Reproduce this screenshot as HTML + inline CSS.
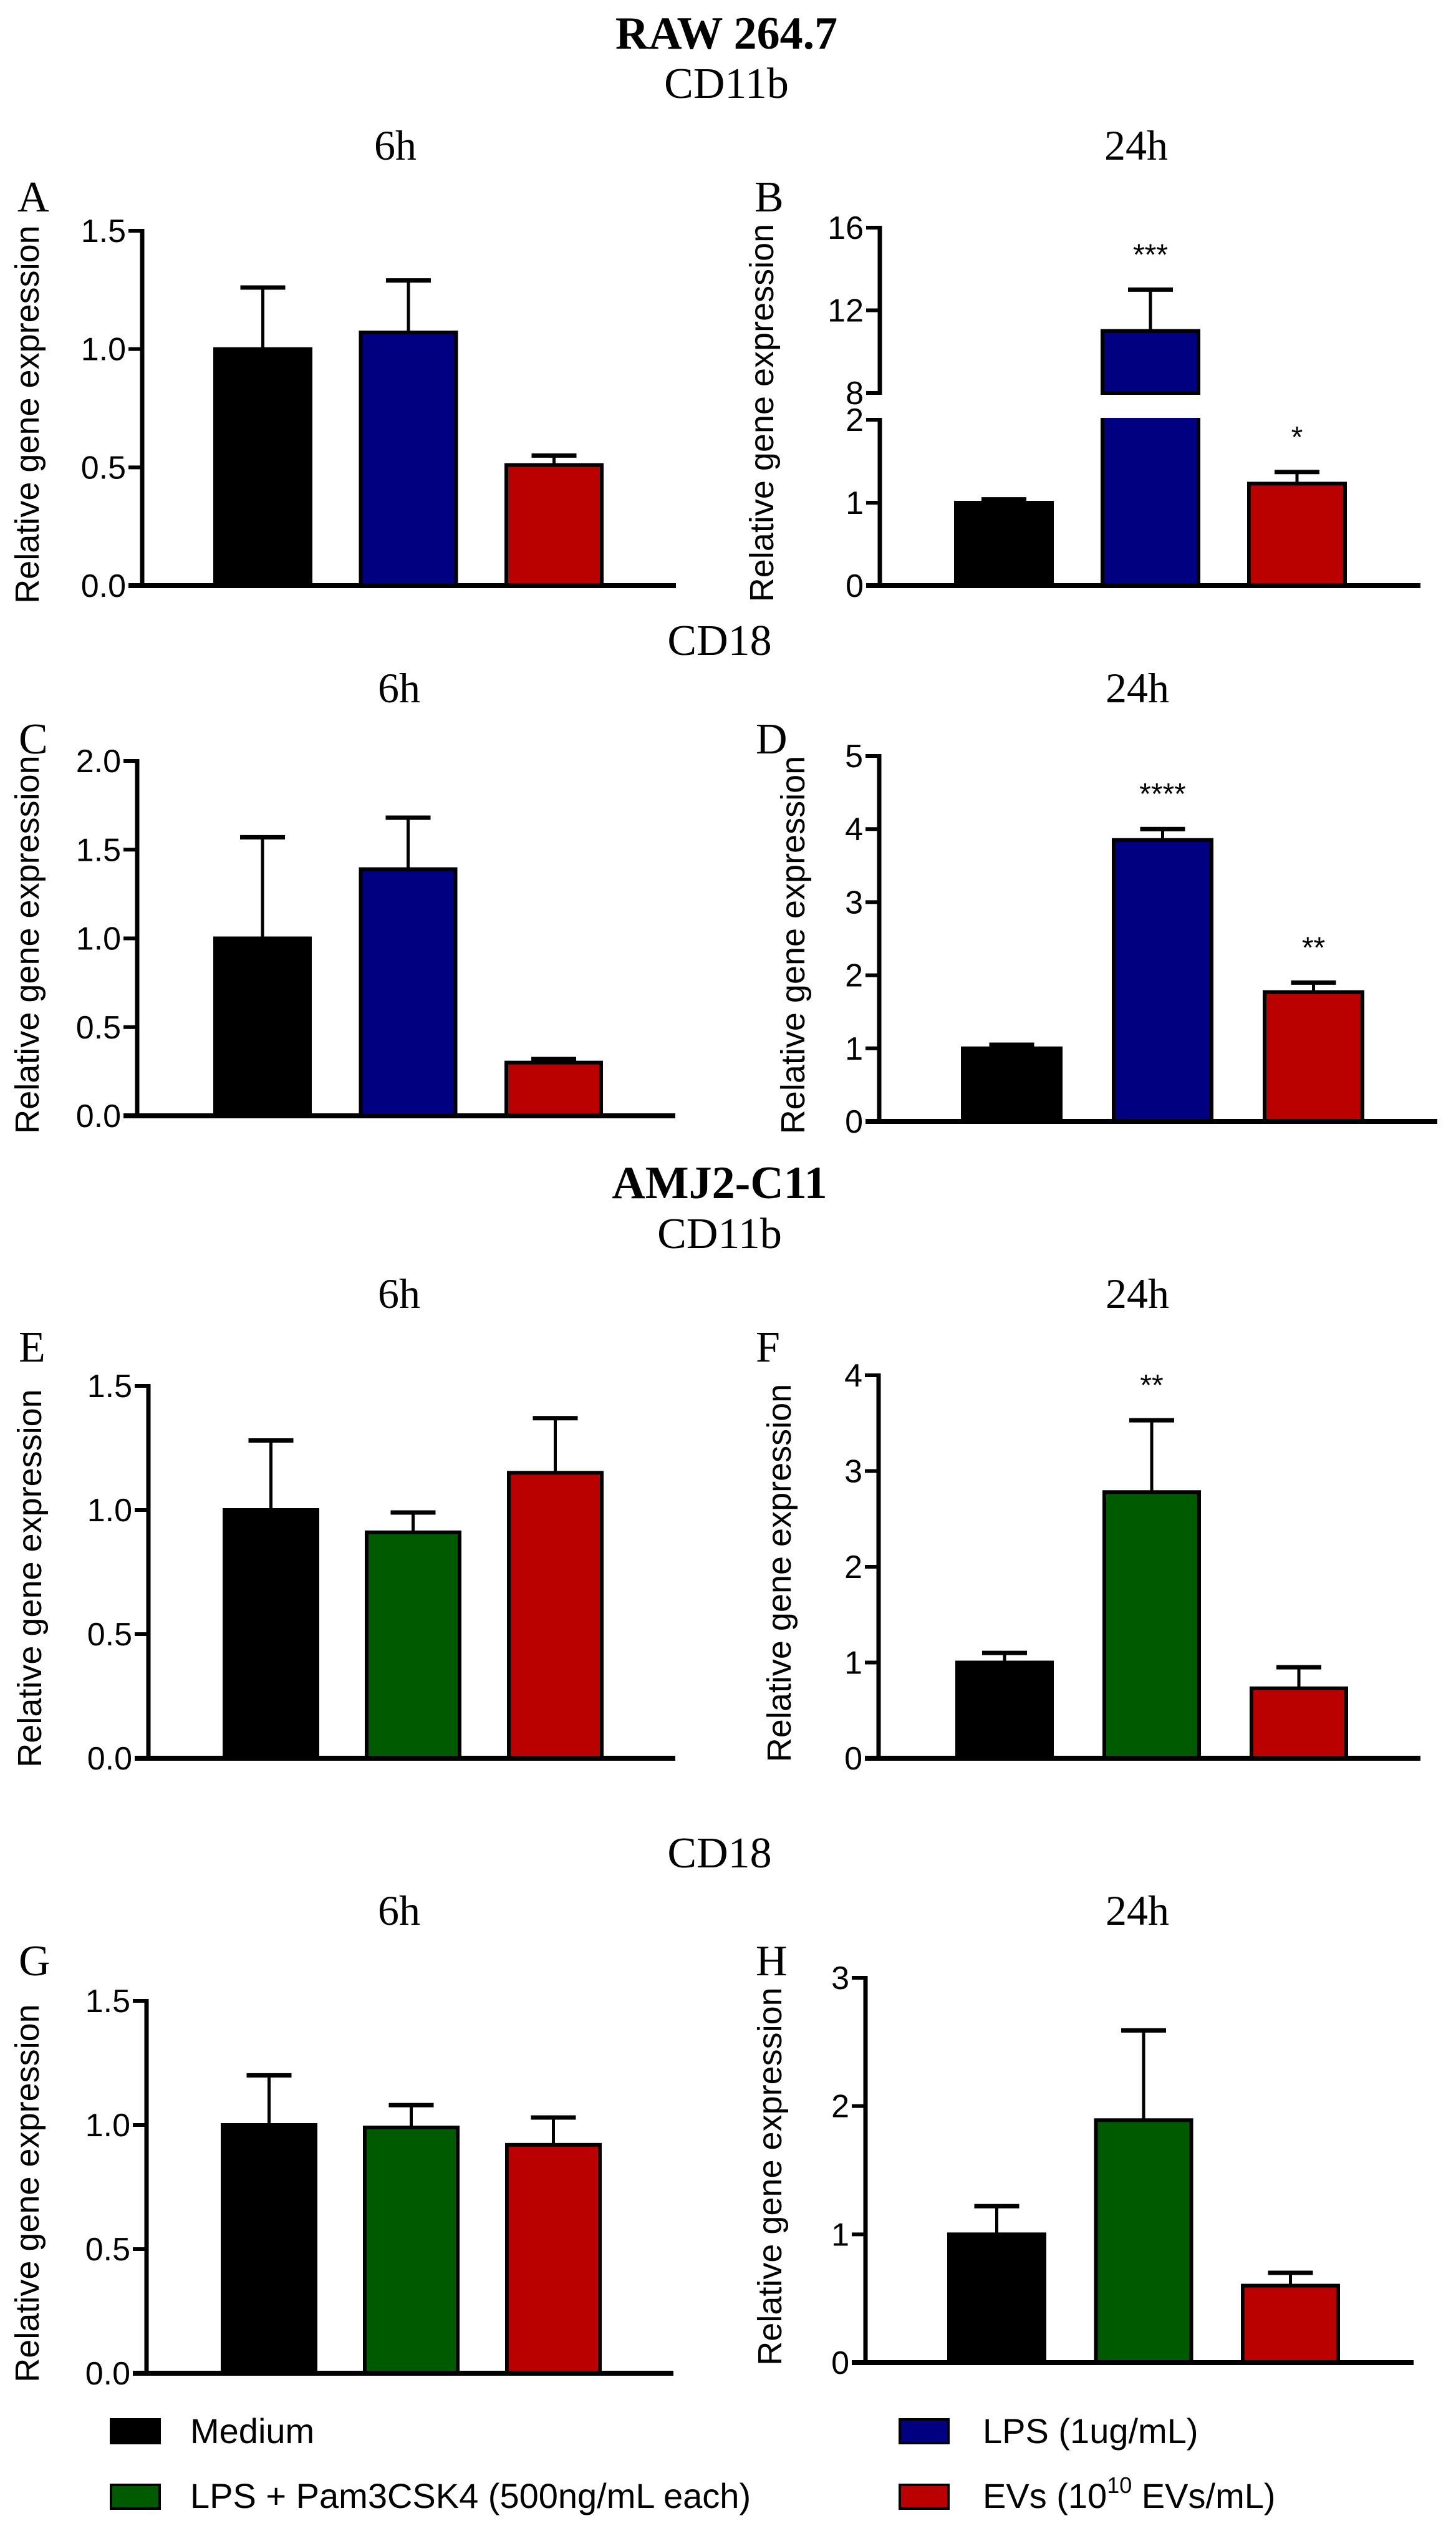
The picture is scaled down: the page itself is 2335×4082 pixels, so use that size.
<!DOCTYPE html>
<html><head><meta charset="utf-8"><style>
html,body{margin:0;padding:0;background:#fff;}
svg{display:block;}
.ser{font-family:"Liberation Serif",serif;}
.san{font-family:"Liberation Sans",sans-serif;}
</style></head><body>
<svg id="fig" width="2335" height="4082" viewBox="0 0 2335 4082" xmlns="http://www.w3.org/2000/svg">
<g class="ser" fill="#000" text-anchor="middle">
<text x="1165" y="78" font-size="74" font-weight="bold">RAW 264.7</text>
<text x="1165" y="157" font-size="70">CD11b</text>
<text x="634" y="256" font-size="68">6h</text>
<text x="1822" y="256" font-size="68">24h</text>
<text x="1154" y="1050" font-size="70">CD18</text>
<text x="640" y="1126" font-size="68">6h</text>
<text x="1824" y="1126" font-size="68">24h</text>
<text x="1154" y="1921" font-size="74" font-weight="bold">AMJ2-C11</text>
<text x="1154" y="2001" font-size="70">CD11b</text>
<text x="640" y="2097" font-size="68">6h</text>
<text x="1824" y="2097" font-size="68">24h</text>
<text x="1154" y="2994" font-size="70">CD18</text>
<text x="640" y="3086" font-size="68">6h</text>
<text x="1824" y="3086" font-size="68">24h</text>
</g>
<g class="ser" fill="#000" font-size="70">
<text x="28" y="339">A</text>
<text x="1210" y="339">B</text>
<text x="30" y="1208">C</text>
<text x="1212" y="1208">D</text>
<text x="30" y="2183">E</text>
<text x="1212" y="2183">F</text>
<text x="30" y="3167">G</text>
<text x="1212" y="3167">H</text>
</g>
<g id="plots"></g>
<g class="san" font-size="56" fill="#000">
<rect x="178" y="3879" width="78" height="38" fill="#000" stroke="#000" stroke-width="4"/>
<text x="305" y="3917">Medium</text>
<rect x="178" y="3984" width="78" height="38" fill="#005a00" stroke="#000" stroke-width="4"/>
<text x="305" y="4021">LPS + Pam3CSK4 (500ng/mL each)</text>
<rect x="1443" y="3879" width="78" height="38" fill="#000080" stroke="#000" stroke-width="4"/>
<text x="1576" y="3917">LPS (1ug/mL)</text>
<rect x="1443" y="3984" width="78" height="38" fill="#bb0000" stroke="#000" stroke-width="4"/>
<text x="1576" y="4021">EVs (10<tspan font-size="36" dy="-24">10</tspan><tspan dy="24"> EVs/mL)</tspan></text>
</g>
</svg>
<script>
// ---- data ----
const groupsRAW = ["Medium","LPS","EVs"];
const groupsAMJ = ["Medium","LPS+Pam3CSK4","EVs"];
const valsA = [1.0, 1.07, 0.51];
const errA  = [0.26, 0.22, 0.04];
const valsB = [1.0, 11.0, 1.23];
const errB  = [0.04, 2.0, 0.14];
const sigB  = ["", "***", "*"];
const valsC = [1.0, 1.39, 0.30];
const errC  = [0.57, 0.29, 0.02];
const valsD = [1.0, 3.85, 1.77];
const errD  = [0.05, 0.15, 0.13];
const sigD  = ["", "****", "**"];
const valsE = [1.0, 0.91, 1.15];
const errE  = [0.28, 0.08, 0.22];
const valsF = [1.0, 2.78, 0.73];
const errF  = [0.10, 0.75, 0.22];
const sigF  = ["", "**", ""];
const valsG = [1.0, 0.99, 0.92];
const errG  = [0.20, 0.09, 0.11];
const valsH = [1.0, 1.89, 0.60];
const errH  = [0.22, 0.70, 0.10];
const ticks15 = [0, 0.5, 1.0, 1.5];
const ticks15Labels = ["0.0","0.5","1.0","1.5"];
const ticks20 = [0, 0.5, 1.0, 1.5, 2.0];
const ticks20Labels = ["0.0","0.5","1.0","1.5","2.0"];
const ticks5 = [0,1,2,3,4,5];
const ticks4 = [0,1,2,3,4];
const ticks3 = [0,1,2,3];
const ticksBLow = [0,1,2];
const ticksBHigh = [8,12,16];
const colorsRAW = ["#000000","#000080","#bb0000"];
const colorsAMJ = ["#000000","#005a00","#bb0000"];

const NS = "http://www.w3.org/2000/svg";
const root = document.getElementById("plots");
function mk(tag, attrs, parent) {
  const e = document.createElementNS(NS, tag);
  for (const k in attrs) e.setAttribute(k, attrs[k]);
  (parent || root).appendChild(e);
  return e;
}
function txt(str, attrs, parent) {
  const t = mk("text", attrs, parent); t.textContent = str; return t;
}

function drawAxisTicks(g, ax, scale, ticks, labels, id) {
  ticks.forEach((t, i) => {
    const y = scale(t);
    const tk = mk("line", {x1: ax - 22, x2: ax, y1: y, y2: y, stroke: "#000", "stroke-width": 6}, g);
    
    
    const lb = txt(labels ? labels[i] : String(t), {x: ax - 26, y: y + 18, "text-anchor": "end", "font-size": 52, class: "san"}, g);
    
    
  });
}

function drawBarAndErr(g, x, bw, yTop, yBot, yErr, color, id) {
  const r = mk("rect", {x: x, y: yTop, width: bw, height: yBot - yTop, fill: color, stroke: "#000", "stroke-width": 6}, g);
  
  
  if (yErr !== null) {
    const cx = x + bw / 2;
    const l = mk("line", {x1: cx, x2: cx, y1: yTop, y2: yErr, stroke: "#000", "stroke-width": 5}, g);
    
    
    const c = mk("line", {x1: cx - 36, x2: cx + 36, y1: yErr, y2: yErr, stroke: "#000", "stroke-width": 7}, g);
    
    
  }
}

function panel(p) {
  const g = mk("g", {});
  
  
  const scale = v => p.y0 - (v / p.max) * (p.y0 - p.ytop);
  const mid = (p.y0 + p.ytop) / 2 + 10;
  const yt = txt("Relative gene expression", {x: p.tx, y: mid, "text-anchor": "middle", "font-size": 54, class: "san", transform: `rotate(-90 ${p.tx} ${mid})`}, g);
  
  
  drawAxisTicks(g, p.ax, scale, p.ticks, p.labels, p.id);
  p.vals.forEach((v, i) => {
    const x = p.bar0 + i * p.stride;
    drawBarAndErr(g, x, p.bw, scale(v), p.y0, scale(v + p.err[i]), p.colors[i], p.id + '-bar-' + (i + 1));
    if (p.sig && p.sig[i]) {
      const s = txt(p.sig[i], {x: x + p.bw / 2, y: scale(v + p.err[i]) - 40, "text-anchor": "middle", "font-size": 48, class: "san"}, g);
      
      
    }
  });
  const ya = mk("line", {x1: p.ax, x2: p.ax, y1: p.ytop - 3, y2: p.y0 + 3, stroke: "#000", "stroke-width": 7}, g);
  
  
  const xa = mk("line", {x1: p.ax - 22, x2: p.xend, y1: p.y0, y2: p.y0, stroke: "#000", "stroke-width": 8}, g);
  
  
}

panel({id:"panel-a", ax:228, y0:939, ytop:370, max:1.5, ticks:ticks15, labels:ticks15Labels, xend:1084, bar0:345, stride:233.5, bw:153, vals:valsA, err:errA, colors:colorsRAW, tx:62});
panel({id:"panel-c", ax:220, y0:1789, ytop:1220, max:2.0, ticks:ticks20, labels:ticks20Labels, xend:1083, bar0:345, stride:233.5, bw:152, vals:valsC, err:errC, colors:colorsRAW, tx:62});
panel({id:"panel-d", ax:1410, y0:1798, ytop:1212, max:5, ticks:ticks5, xend:2305, bar0:1544, stride:242, bw:157, vals:valsD, err:errD, colors:colorsRAW, sig:sigD, tx:1290});
panel({id:"panel-e", ax:238, y0:2819, ytop:2222, max:1.5, ticks:ticks15, labels:ticks15Labels, xend:1083, bar0:360, stride:228, bw:149, vals:valsE, err:errE, colors:colorsAMJ, tx:66});
panel({id:"panel-f", ax:1409, y0:2819, ytop:2205, max:4, ticks:ticks4, xend:2278, bar0:1535, stride:236, bw:152, vals:valsF, err:errF, colors:colorsAMJ, sig:sigF, tx:1268});
panel({id:"panel-g", ax:235, y0:3805, ytop:3208, max:1.5, ticks:ticks15, labels:ticks15Labels, xend:1080, bar0:357, stride:228, bw:149, vals:valsG, err:errG, colors:colorsAMJ, tx:62});
panel({id:"panel-h", ax:1388, y0:3788, ytop:3171, max:3, ticks:ticks3, xend:2267, bar0:1522, stride:235.5, bw:153, vals:valsH, err:errH, colors:colorsAMJ, tx:1253});

// Panel B: broken axis
(function(){
  const g = mk("g", {});
  
  
  const ax = 1411, y0 = 939, yLowTop = 673, yHighBot = 630, yHighTop = 365;
  const lowMax = 2, highMin = 8, highMax = 16;
  const sLow = v => y0 - (v / lowMax) * (y0 - yLowTop);
  const sHigh = v => yHighBot - ((v - highMin) / (highMax - highMin)) * (yHighBot - yHighTop);
  const sc = v => v <= lowMax ? sLow(v) : (v >= highMin ? sHigh(v) : yLowTop);
  const tx = 1240, mid = (y0 + yHighTop) / 2 + 10;
  const yt = txt("Relative gene expression", {x: tx, y: mid, "text-anchor": "middle", "font-size": 54, class: "san", transform: `rotate(-90 ${tx} ${mid})`}, g);
  
  
  drawAxisTicks(g, ax, sLow, ticksBLow, null, 'panel-b-low');
  drawAxisTicks(g, ax, sHigh, ticksBHigh, null, 'panel-b-high');
  const bar0 = 1533, stride = 235, bw = 154;
  valsB.forEach((v, i) => {
    const x = bar0 + i * stride, id = 'panel-b-bar-' + (i + 1);
    const top = v + errB[i];
    if (v <= lowMax) {
      drawBarAndErr(g, x, bw, sLow(v), y0, sc(top), colorsRAW[i], id);
    } else {
      drawBarAndErr(g, x, bw, sHigh(v), yHighBot, sc(top), colorsRAW[i], id);
      const lo = mk("rect", {x: x, y: yLowTop, width: bw, height: y0 - yLowTop, fill: colorsRAW[i], stroke: "#000", "stroke-width": 6}, g);
      
      
      const cover = mk("line", {x1: x + 3, x2: x + bw - 3, y1: yLowTop, y2: yLowTop, stroke: colorsRAW[i], "stroke-width": 6}, g);
      
      
    }
    if (sigB[i]) {
      const s = txt(sigB[i], {x: x + bw / 2, y: sc(top) - 40, "text-anchor": "middle", "font-size": 48, class: "san"}, g);
      
      
    }
  });
  const ya1 = mk("line", {x1: ax, x2: ax, y1: yLowTop - 3, y2: y0 + 3, stroke: "#000", "stroke-width": 7}, g);
  
  
  const ya2 = mk("line", {x1: ax, x2: ax, y1: yHighTop - 3, y2: yHighBot + 3, stroke: "#000", "stroke-width": 7}, g);
  
  
  const xa = mk("line", {x1: ax - 22, x2: 2278, y1: y0, y2: y0, stroke: "#000", "stroke-width": 8}, g);
  
  
})();
</script>
</body></html>
